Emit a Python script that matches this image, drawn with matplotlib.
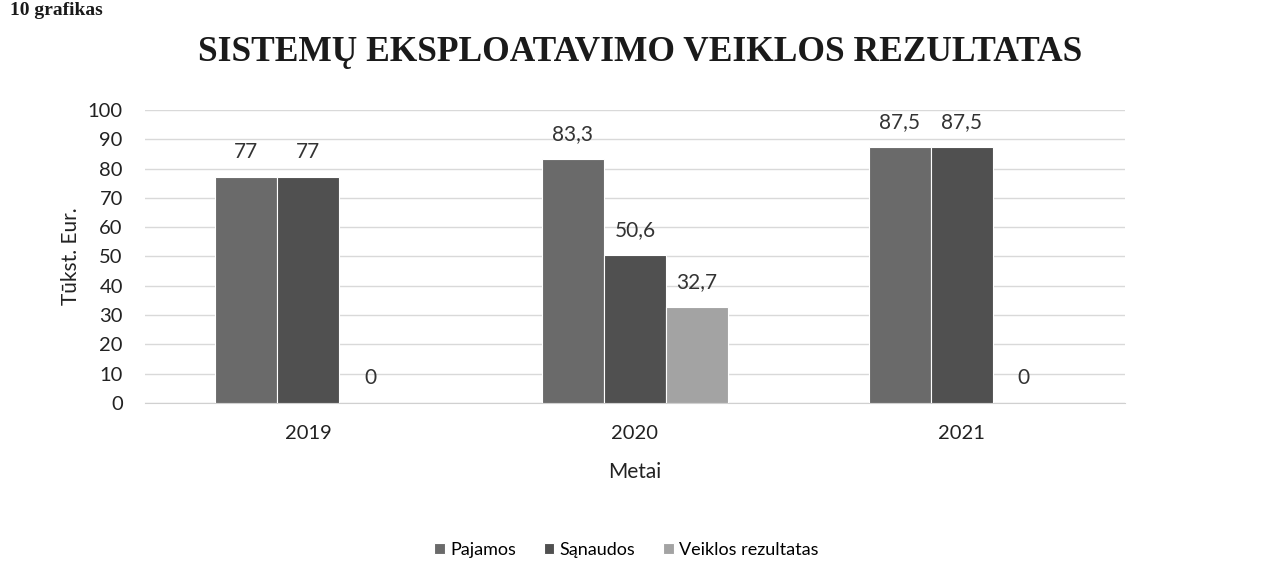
import numpy as np
import matplotlib
matplotlib.use("Agg")
import matplotlib.pyplot as plt

years = ["2019", "2020", "2021"]
series = ["Pajamos", "Sąnaudos", "Veiklos rezultatas"]
pajamos = [77, 83.3, 87.5]
sanaudos = [77, 50.6, 87.5]
rezultatas = [0, 32.7, 0]
colors = ["#6a6a6a", "#505050", "#a3a3a3"]

plt.rcParams["font.family"] = ["Lato", "DejaVu Sans"]

fig = plt.figure(figsize=(12.63, 5.8), dpi=100)
ax = fig.add_axes([0.1148, 0.3052, 0.7759, 0.5052])

x = np.arange(len(years))
w = 0.19
for i, (vals, name) in enumerate(zip([pajamos, sanaudos, rezultatas], series)):
    pos = x + (i - 1) * w
    ax.bar(pos, vals, width=w, color=colors[i], edgecolor="white", linewidth=0.8,
           label=name, zorder=3)
    for xp, v in zip(pos, vals):
        txt = f"{v:g}".replace(".", ",")
        ax.annotate(txt, (xp, v), xytext=(0, 18), textcoords="offset points",
                    ha="center", va="center", fontsize=15, color="#333333")

ax.set_xlim(-0.5, 2.5)
ax.set_ylim(0, 100)
ax.set_yticks(np.arange(0, 101, 10))
ax.set_xticks(x)
ax.set_xticklabels(years)
ax.tick_params(axis="both", length=0, labelsize=14.5, colors="#222222")
ax.tick_params(axis="y", pad=16)
ax.tick_params(axis="x", pad=16)
ax.yaxis.grid(True, color="#d9d9d9", linewidth=1, zorder=0)
for s in ["top", "right", "left"]:
    ax.spines[s].set_visible(False)
ax.spines["bottom"].set_color("#d0d0d0")

ax.set_ylabel("Tūkst. Eur.", fontsize=15, color="#222222", labelpad=5)
ax.set_xlabel("Metai", fontsize=15, color="#222222", labelpad=14)

fig.text(0.507, 0.91, "SISTEMŲ EKSPLOATAVIMO VEIKLOS REZULTATAS",
         ha="center", va="center", fontsize=25.5, fontweight="bold",
         family=["Liberation Serif", "DejaVu Serif"], color="#1a1a1a")
fig.text(0.008, 0.997, "10 grafikas", ha="left", va="top",
         fontsize=14, fontweight="bold", family=["Liberation Serif", "DejaVu Serif"],
         color="#1a1a1a")

fig.legend(loc="center", bbox_to_anchor=(0.496, 0.052), ncol=3, frameon=False,
           fontsize=13, handlelength=0.6, handleheight=0.6, handletextpad=0.3,
           columnspacing=1.5)

fig.savefig("out.png", dpi=100)
